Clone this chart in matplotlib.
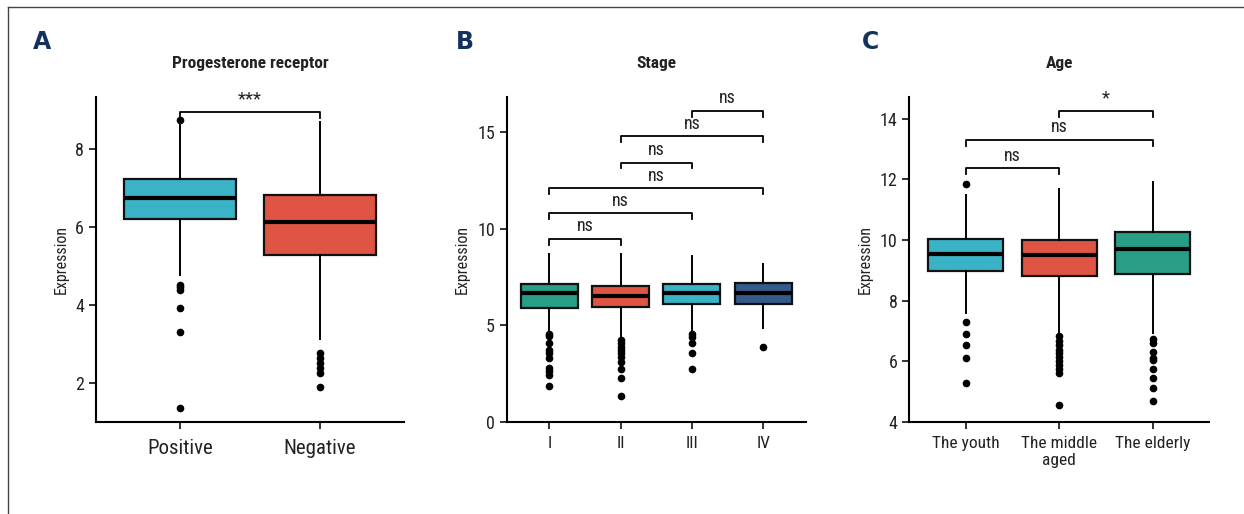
import matplotlib
matplotlib.use('Agg')
import matplotlib.pyplot as plt
from matplotlib.lines import Line2D

plt.rcParams['font.family'] = ['Roboto Condensed', 'DejaVu Sans']

# Panel A - progesterone receptor
pr_labels = ['Positive', 'Negative']
pr_q1 = [6.21, 5.28]
pr_med = [6.74, 6.13]
pr_q3 = [7.23, 6.82]
pr_lo = [4.77, 3.13]
pr_hi = [8.74, 8.69]
pr_fliers = [[4.51, 4.46, 4.38, 3.92, 3.31, 1.36, 8.74],
             [2.77, 2.64, 2.51, 2.38, 2.26, 1.90]]
pr_colors = ['#3ab3c7', '#e05444']
pr_comp = [(1, 2, 8.95, '***')]

# Panel B - stage
st_labels = ['I', 'II', 'III', 'IV']
st_q1 = [5.90, 5.93, 6.12, 6.10]
st_med = [6.66, 6.53, 6.66, 6.66]
st_q3 = [7.14, 7.05, 7.14, 7.17]
st_lo = [4.67, 4.40, 4.70, 4.85]
st_hi = [8.67, 8.67, 8.60, 8.17]
st_fliers = [[4.55, 4.45, 4.07, 3.72, 3.58, 3.29, 2.78, 2.64, 2.43, 1.86],
             [4.24, 4.07, 3.90, 3.72, 3.55, 3.38, 3.12, 2.74, 2.26, 1.35],
             [4.55, 4.41, 4.07, 3.58, 2.76],
             [3.86]]
st_colors = ['#289e86', '#e05444', '#3ab3c7', '#365a8a']
st_comp = [(1, 2, 9.47, 'ns'), (1, 3, 10.78, 'ns'), (1, 4, 12.09, 'ns'),
           (2, 3, 13.41, 'ns'), (2, 4, 14.76, 'ns'), (3, 4, 16.09, 'ns')]

# Panel C - age
age_labels = ['The youth', 'The middle\naged', 'The elderly']
age_q1 = [8.98, 8.82, 8.89]
age_med = [9.54, 9.51, 9.70]
age_q3 = [10.04, 10.00, 10.28]
age_lo = [7.59, 6.98, 6.93]
age_hi = [11.49, 11.69, 11.93]
age_fliers = [[11.84, 7.31, 6.90, 6.54, 6.11, 5.28],
              [6.82, 6.68, 6.54, 6.38, 6.27, 6.15, 6.02, 5.88, 5.74, 5.61, 4.57],
              [6.73, 6.60, 6.32, 6.10, 6.05, 5.75, 5.44, 5.11, 4.69]]
age_colors = ['#3ab3c7', '#e05444', '#289e86']
age_comp = [(1, 2, 12.37, 'ns'), (1, 3, 13.31, 'ns'), (2, 3, 14.26, '*')]


def draw_panel(ax, labels, q1, med, q3, lo, hi, fliers, colors, comps,
               ylim, yticks, title, letter, letter_x, xfs, xpad):
    stats = []
    for i in range(len(labels)):
        stats.append({'q1': q1[i], 'med': med[i], 'q3': q3[i],
                      'whislo': lo[i], 'whishi': hi[i], 'fliers': fliers[i]})
    pos = list(range(1, len(labels) + 1))
    bp = ax.bxp(stats, positions=pos, widths=0.8, patch_artist=True,
                showcaps=False,
                boxprops=dict(linewidth=1.6, edgecolor='#111111'),
                medianprops=dict(color='black', linewidth=3),
                whiskerprops=dict(color='black', linewidth=1.4),
                flierprops=dict(marker='o', markerfacecolor='black',
                                markeredgecolor='black', markersize=4.5))
    for patch, c in zip(bp['boxes'], colors):
        patch.set_facecolor(c)

    drop = 0.018 * (ylim[1] - ylim[0])
    for a, b, h, txt in comps:
        ax.plot([a, a, b, b], [h - drop, h, h, h - drop], color='black',
                linewidth=1.3, clip_on=False)
        ax.annotate(txt, xy=((a + b) / 2, h), xytext=(0, 2.5),
                    textcoords='offset points', ha='center', va='bottom',
                    fontsize=13.5 if txt.startswith('*') else 13, color='#222222')

    ax.set_xlim(0.4, len(labels) + 0.6)
    ax.set_ylim(*ylim)
    ax.set_yticks(yticks)
    ax.set_xticks(pos)
    ax.set_xticklabels(labels, fontsize=xfs, linespacing=1.15)
    ax.tick_params(axis='y', labelsize=13, length=5, width=1.3, colors='#222222')
    ax.tick_params(axis='x', length=5, width=1.3, pad=xpad, colors='#222222')
    for lab in ax.get_xticklabels() + ax.get_yticklabels():
        lab.set_color('#222222')
    ax.spines['top'].set_visible(False)
    ax.spines['right'].set_visible(False)
    ax.spines['left'].set_linewidth(1.5)
    ax.spines['bottom'].set_linewidth(1.5)
    ax.set_ylabel('Expression', fontsize=11.5, color='#222222', labelpad=5)
    ax.set_title(title, fontsize=12.5, fontweight='bold', pad=21, color='#222222')
    ax.text(letter_x, 1.17, letter, transform=ax.transAxes, fontsize=17,
            fontweight='bold', color='#14315e', family='DejaVu Sans',
            ha='center', va='center')


fig = plt.figure(figsize=(12.44, 5.14), dpi=100)
axA = fig.add_axes([0.0772, 0.179, 0.2476, 0.6323])
axB = fig.add_axes([0.4073, 0.179, 0.2406, 0.6323])
axC = fig.add_axes([0.7310, 0.179, 0.2407, 0.6323])

draw_panel(axA, pr_labels, pr_q1, pr_med, pr_q3, pr_lo, pr_hi, pr_fliers,
           pr_colors, pr_comp, (1.0, 9.33), [2, 4, 6, 8],
           'Progesterone receptor', 'A', -0.175, 15, 7)
draw_panel(axB, st_labels, st_q1, st_med, st_q3, st_lo, st_hi, st_fliers,
           st_colors, st_comp, (0, 16.8), [0, 5, 10, 15], 'Stage', 'B', -0.14, 12.5, 5)
draw_panel(axC, age_labels, age_q1, age_med, age_q3, age_lo, age_hi, age_fliers,
           age_colors, age_comp, (4, 14.72), [4, 6, 8, 10, 12, 14], 'Age', 'C', -0.131, 12.5, 5)

# outer frame (top and left edges)
fig.add_artist(Line2D([0.0064, 1.0], [0.9864, 0.9864], transform=fig.transFigure,
                      color='#444444', linewidth=1))
fig.add_artist(Line2D([0.0064, 0.0064], [0.0, 0.9864], transform=fig.transFigure,
                      color='#444444', linewidth=1))

fig.savefig('out.png', dpi=100)
